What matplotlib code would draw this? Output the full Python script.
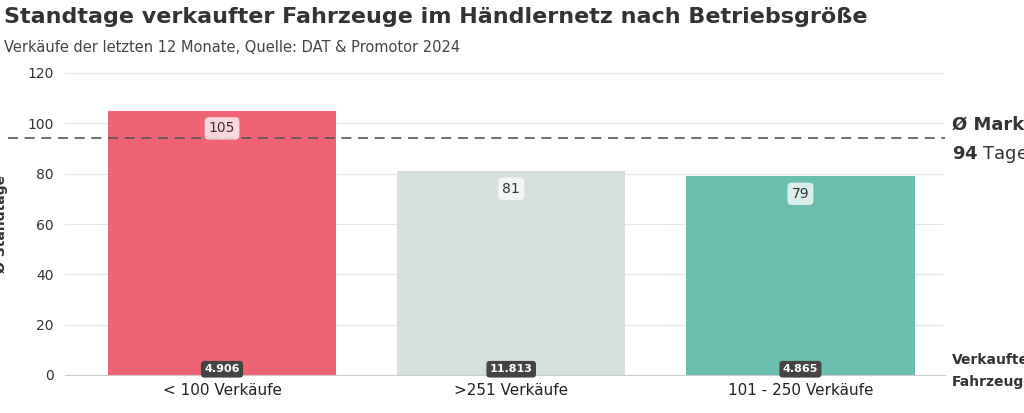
import matplotlib.pyplot as plt

plt.rcParams["font.family"] = ["DejaVu Sans"]

categories = ["< 100 Verkäufe", ">251 Verkäufe", "101 - 250 Verkäufe"]
standtage = [105, 81, 79]
verkauft = ["4.906", "11.813", "4.865"]
markt = 94
colors = ["#ee6474", "#d5e0de", "#6bbdae"]

fig = plt.figure(figsize=(10.24, 4.13), dpi=100)
ax = fig.add_axes([65 / 1024, 38 / 413, 880 / 1024, 302 / 413])
x = range(len(categories))
ax.bar(x, standtage, width=0.79, color=colors, zorder=2)
ax.set_xlim(-0.543, 2.50)
ax.set_ylim(0, 120)
ax.set_yticks(range(0, 121, 20))
ax.grid(axis="y", color="#e6e6e6", lw=0.8, zorder=0)
for s in ax.spines.values():
    s.set_visible(False)
ax.spines["bottom"].set_visible(True)
ax.spines["bottom"].set_color("#cccccc")
ax.tick_params(axis="y", length=0, labelsize=10, colors="#333333", pad=8)
ax.tick_params(axis="x", length=0, labelsize=11, colors="#222222", pad=6)
ax.set_xticks(list(x))
ax.set_xticklabels(categories)
ax.set_ylabel("Ø Standtage", fontsize=10, fontweight="bold", color="#333333", labelpad=14)

ax.axhline(markt, xmin=-0.065, xmax=1, color="#555555", ls=(0, (6, 4)), lw=1.2, zorder=3, clip_on=False)

for i, (v, n) in enumerate(zip(standtage, verkauft)):
    ax.text(i, v - 7, str(v), ha="center", va="center", fontsize=10, color="#333333", zorder=4,
            bbox=dict(boxstyle="round,pad=0.3", fc="white", ec="none", alpha=0.75))
    ax.text(i, 0.3, n, ha="center", va="bottom", fontsize=8, color="white", fontweight="bold", zorder=4,
            bbox=dict(boxstyle="round,pad=0.3", fc="#444444", ec="none"))

fig.text(952 / 1024, 1 - 125 / 413, "Ø Markt", fontsize=13, fontweight="bold", color="#333333", va="center")
fig.text(952 / 1024, 1 - 155 / 413, r"$\bf{94}$ Tage", fontsize=13, color="#333333", va="center")
fig.text(952 / 1024, 1 - 360 / 413, "Verkaufte", fontsize=10, fontweight="bold", color="#333333", va="center")
fig.text(952 / 1024, 1 - 382 / 413, "Fahrzeuge", fontsize=10, fontweight="bold", color="#333333", va="center")

fig.text(4 / 1024, 1 - 17 / 413, "Standtage verkaufter Fahrzeuge im Händlernetz nach Betriebsgröße",
         fontsize=16, fontweight="bold", color="#333333", va="center")
fig.text(4 / 1024, 1 - 47 / 413, "Verkäufe der letzten 12 Monate, Quelle: DAT & Promotor 2024",
         fontsize=10.5, color="#444444", va="center")

fig.savefig("out.png", dpi=100)
